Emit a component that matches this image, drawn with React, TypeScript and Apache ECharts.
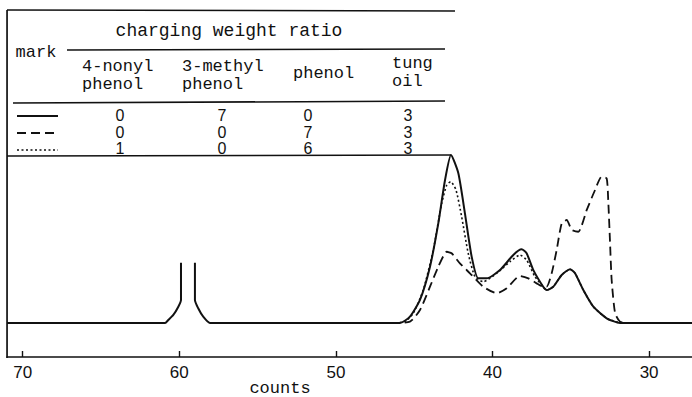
import React, { useEffect, useRef } from "react";
import * as echarts from "echarts";

// x = counts, y = relative detector response (highest peak = 100)
const solidData: (number | string)[][] = [
  [71.0, 0], [60.91, 0], [60.7, 1.8], [60.38, 4.8], [60.06, 9.7], [59.89, 13.7], [59.89, 35.9],
  [59.45, "-"],
  [59.0, 35.9], [59.0, 13.7], [58.79, 8.75], [58.47, 3.75], [58.04, 0],
  [45.91, 0], [45.27, 3.75], [44.63, 13.7], [43.99, 33.5], [43.46, 59.3], [43.03, 85.1],
  [42.65, 100], [42.18, 89.1], [41.76, 65.3], [41.33, 39.5], [40.91, 26.6], [40.37, 26.6],
  [39.52, 31.5], [38.67, 40.5], [38.14, 43.9], [37.82, 41.5], [37.39, 31.5], [36.76, 21.6],
  [36.54, 19.6], [36.12, 21.6], [35.58, 28.6], [35.05, 32.0], [34.73, 29.6], [34.2, 19.6],
  [33.56, 9.7], [32.71, 2.8], [31.86, 0], [27.26, 0],
];

const dashedData: number[][] = [
  [46.5, 0], [45.27, 0.8], [44.63, 7.7], [43.99, 21.6], [43.46, 33.5], [42.92, 42.4],
  [42.61, 41.5], [42.08, 35.5], [41.44, 29.6], [40.59, 21.6], [39.73, 17.7], [39.09, 20.7],
  [38.25, 28.0], [37.71, 26.6], [37.18, 23.6], [36.76, 21.6], [36.54, 21.6], [36.22, 29.6],
  [35.9, 43.5], [35.58, 59.3], [35.26, 61.3], [34.94, 55.4], [34.52, 54.3], [33.98, 67.3],
  [33.45, 79.2], [33.03, 87.1], [32.71, 86.1], [32.61, 73.2], [32.5, 49.4], [32.39, 25.6],
  [32.17, 5.8], [31.86, 0.8], [31.43, 0],
];

const dottedData: number[][] = [
  [46.5, 0], [45.59, 0.8], [45.06, 5.8], [44.42, 19.6], [43.78, 43.5], [43.24, 71.3],
  [42.92, 82.1], [42.67, 84.1], [42.33, 79.2], [41.97, 63.3], [41.55, 41.5], [41.12, 27.6],
  [40.59, 24.6], [39.73, 29.6], [38.88, 36.5], [38.25, 40.5], [37.82, 37.5], [37.29, 27.6],
  [36.76, 21.6], [36.54, 19.6], [36.12, 21.6], [35.58, 28.6], [35.05, 32.0], [34.73, 29.6],
  [34.2, 19.6], [33.56, 9.7], [32.71, 2.8], [31.86, 0],
];

const xTicks = [30, 40, 50, 60, 70];
const tableTitle = "charging weight ratio";
const markHeader = "mark";
const columnHeaders = [["4-nonyl", "phenol"], ["3-methyl", "phenol"], ["phenol"], ["tung", "oil"]];
const ratioRows = [
  [0, 7, 0, 3],
  [0, 0, 7, 3],
  [1, 0, 6, 3],
];
const axisName = "counts";

const MONO = "'Liberation Mono', 'DejaVu Sans Mono', monospace";
const SANS = "'Liberation Sans', Arial, sans-serif";
const INK = "#111";

export default function App() {
  const ref = useRef<HTMLDivElement>(null);
  useEffect(() => {
    if (!ref.current) return;
    const chart = echarts.init(ref.current, undefined, { renderer: "svg" });

    const graphics: any[] = [];
    const line = (x1: number, y1: number, x2: number, y2: number, w = 1.5, dash?: number[]) =>
      graphics.push({
        type: "line",
        shape: { x1, y1, x2, y2 },
        style: { stroke: INK, lineWidth: w, lineDash: dash },
      });
    // left frame
    graphics.push({ type: "rect", shape: { x: 6.2, y: 10, width: 1.7, height: 348 }, style: { fill: INK } });
    // table rules
    line(7, 10, 455, 11);
    line(67, 50, 445, 49);
    line(13, 103, 445, 101);
    line(7, 156, 451, 155);
    // legend marks
    line(17, 116, 58, 116, 2);
    line(17, 133, 58, 133, 2, [9, 5]);
    line(17, 150, 58, 150, 1.6, [2, 2.5]);

    const txt = (text: string, x: number, y: number, align: string, font: string, size: number) =>
      graphics.push({
        type: "text",
        x,
        y,
        style: { text, fill: INK, font: `${size}px ${font}`, align, verticalAlign: "middle" },
      });
    txt(tableTitle, 229, 31, "center", MONO, 18);
    txt(markHeader, 36, 52, "center", MONO, 17);
    const headerX = [82, 182, 293, 392];
    const headerY: number[][] = [[66, 84], [66, 84], [73], [63, 81]];
    columnHeaders.forEach((lines, i) =>
      lines.forEach((l, j) => txt(l, headerX[i], headerY[i][j], "left", MONO, 17))
    );
    const colX = [120, 222, 308, 408];
    const rowY = [115, 132, 148];
    ratioRows.forEach((row, r) =>
      row.forEach((v, c) => txt(String(v), colX[c], rowY[r], "center", SANS, 16))
    );
    txt(axisName, 280, 388, "center", MONO, 17);

    chart.setOption({
      animation: false,
      backgroundColor: "#fff",
      grid: { left: 7, right: 0, top: 10, bottom: 40, containLabel: false },
      xAxis: {
        type: "value",
        inverse: true,
        min: 27.26,
        max: 71.0,
        axisLine: { show: true, onZero: false, lineStyle: { color: INK, width: 1.6 } },
        axisTick: { show: true, inside: true, length: 6, customValues: xTicks, lineStyle: { color: INK, width: 1.4 } },
        axisLabel: { customValues: xTicks, color: INK, fontFamily: SANS, fontSize: 17, margin: 7 },
        splitLine: { show: false },
      },
      yAxis: {
        type: "value",
        min: -20.24,
        max: 186.3,
        axisLine: { show: false },
        axisTick: { show: false },
        axisLabel: { show: false },
        splitLine: { show: false },
      },
      series: [
        {
          name: "3-methyl phenol : tung oil = 7 : 3",
          type: "line",
          data: solidData,
          smooth: 0.2,
          showSymbol: false,
          connectNulls: false,
          lineStyle: { color: INK, width: 2 },
          z: 3,
        },
        {
          name: "phenol : tung oil = 7 : 3",
          type: "line",
          data: dashedData,
          smooth: 0.2,
          showSymbol: false,
          lineStyle: { color: INK, width: 1.8, type: [9, 5] },
          z: 2,
        },
        {
          name: "4-nonyl phenol : phenol : tung oil = 1 : 6 : 3",
          type: "line",
          data: dottedData,
          smooth: 0.2,
          showSymbol: false,
          lineStyle: { color: INK, width: 1.6, type: [2, 2.5] },
          z: 2,
        },
      ],
      graphic: graphics,
    });
    return () => chart.dispose();
  }, []);
  return (
    <div
      ref={ref}
      style={{ position: "fixed", left: 0, top: 0, width: 692, height: 397, background: "#fff" }}
    />
  );
}
